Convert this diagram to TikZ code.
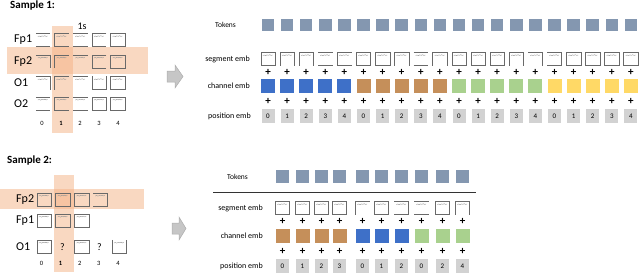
\documentclass[tikz,border=0pt]{standalone}
\usepackage{fontspec}
\setmainfont{Carlito}
\usetikzlibrary{calc}
\definecolor{tokc}{RGB}{132,151,176}
\definecolor{colBlue}{RGB}{62,112,200}
\definecolor{colBrown}{RGB}{197,143,90}
\definecolor{colGreen}{RGB}{169,209,142}
\definecolor{colYellow}{RGB}{255,217,102}
\definecolor{posc}{RGB}{210,210,210}
\definecolor{bandc}{RGB}{244,177,131}
\definecolor{sigc}{RGB}{105,105,105}
\newcommand\sgF[1]{\draw[sigline] (#1.north west) rectangle (#1.south east);}
\newcommand\sgU[1]{\draw[sigline] (#1.south west) -- (#1.north west) -- (#1.north east) -- (#1.south east);}
\newcommand\sgC[1]{\draw[sigline] (#1.north east) -- (#1.north west) -- (#1.south west) -- (#1.south east);}
\newcommand\sgR[1]{\draw[sigline] (#1.north west) -- (#1.north east) -- (#1.south east) -- (#1.south west);}
\newcommand\sgT[1]{\draw[sigline] (#1.north west) -- (#1.north east) (#1.south west) -- (#1.south east);}
\newcommand\sgG[1]{\draw[sigline] (#1.south west) -- (#1.north west) -- (#1.north east);}
\newcommand\sgN[1]{\draw[sigline] (#1.north west) -- (#1.north east) -- (#1.south east);}
\newcommand\sgW[1]{\draw[sigline] (#1.north west) -- (#1.south west) -- (#1.south east) -- (#1.north east);}
\newcommand\sgO[1]{\draw[sigline] (#1.north west) -- (#1.north east);}
\newcommand\sigbox[3]{%
  \node[sigcell] (#1) at (#2) {};
  \csname sg#3\endcsname{#1}%
  \draw[wave] ([xshift=2pt,yshift=-3.2pt]#1.north west) -- ++(1.4,-.5) -- ++(1.4,.6) -- ++(1.4,-.7) -- ++(1.4,.4) -- ++(1.4,-.6) -- ++(1.4,.7) -- ++(1.4,-.4);}
\begin{document}
\begin{tikzpicture}[x=1pt,y=-1pt,
  sigcell/.style={minimum width=14pt,minimum height=13pt,inner sep=0pt,draw=none},
  sigline/.style={draw=sigc,line width=0.6pt},
  wave/.style={draw=gray!85,line width=0.4pt},
  tok/.style={fill=tokc,minimum size=12.5pt,inner sep=0pt},
  chan/.style={minimum size=14pt,inner sep=0pt},
  posbox/.style={fill=posc,minimum width=13pt,minimum height=14pt,inner sep=0pt,font=\fontsize{7}{8}\selectfont},
  plus/.style={font=\fontsize{11}{11}\selectfont\bfseries,inner sep=0pt},
  lab/.style={font=\fontsize{8}{9}\selectfont,anchor=east,inner sep=0pt},
  rowlab/.style={font=\fontsize{12}{13}\selectfont,anchor=west,inner sep=0pt},
  numlab/.style={font=\fontsize{6.5}{7}\selectfont,inner sep=0pt},
  title/.style={font=\fontsize{11}{12}\selectfont\bfseries,anchor=west,inner sep=0pt},
  band/.style={fill=bandc,fill opacity=0.5,draw=none},
  arr/.style={fill=gray!45,draw=gray!65,line width=0.5pt}]
\useasboundingbox (0,0) rectangle (640,277);

% ---------------- Sample 1 (left) ----------------
\node[title] (t1) at (10,5.8) {Sample 1:};
\fill[band] (7,47) rectangle (148,74);
\fill[band] (52,26) rectangle (73,133);
\node[font=\fontsize{10}{11}\selectfont,inner sep=0pt] (onesec) at (82,26) {1s};
\foreach \row/\yy/\vs in {Fp1/40/{T,C,T,C,F},Fp2/61.5/{N,G,O,C,F},O1/83/{N,G,O,W,F},O2/103.5/{T,C,T,F,F}}{
  \node[rowlab] (s1l\row) at (14,\yy) {\row};
  \foreach \v [count=\c from 0] in \vs {
    \pgfmathsetmacro\xx{43+18.7*\c}
    \sigbox{s1\row\c}{\xx,\yy}{\v}
  }
}
\foreach \c in {0,...,4}{
  \pgfmathsetmacro\xx{42+19*\c}
  \ifnum\c=1
    \node[numlab,font=\fontsize{6.5}{7}\selectfont\bfseries] (s1n\c) at (\xx,123) {\c};
  \else
    \node[numlab] (s1n\c) at (\xx,123) {\c};
  \fi
}
\draw[arr] (167,71) -- (175,71) -- (175,65) -- (183,76.5) -- (175,88) -- (175,82) -- (167,82) -- cycle;

% ---------------- Sample 1 (right) ----------------
\node[font=\fontsize{7.5}{8}\selectfont,inner sep=0pt] (tokl1) at (225.5,25) {Tokens};
\node[lab] (segl1) at (250,59) {segment emb};
\node[lab] (chl1) at (250,85.5) {channel emb};
\node[lab] (posl1) at (251,116) {position emb};
\foreach \v/\cc [count=\i from 0] in {F/colBlue,U/colBlue,U/colBlue,T/colBlue,C/colBlue,
    F/colBrown,F/colBrown,U/colBrown,T/colBrown,U/colBrown,
    F/colGreen,F/colGreen,F/colGreen,U/colGreen,N/colGreen,
    R/colYellow,F/colYellow,F/colYellow,F/colYellow,F/colYellow}{
  \pgfmathsetmacro\xx{268+19.1*\i}
  \pgfmathtruncatemacro\p{mod(\i,5)}
  \node[tok] (tk1\i) at (\xx,25) {};
  \sigbox{sg1\i}{\xx,59}{\v}
  \node[plus] (pa1\i) at (\xx,72) {+};
  \node[chan,fill=\cc] (ch1\i) at (\xx,85.5) {};
  \node[plus] (pb1\i) at (\xx,101) {+};
  \node[posbox] (ps1\i) at (\xx,116) {\p};
}

% ---------------- Sample 2 (left) ----------------
\node[title] (t2) at (7,160) {Sample 2:};
\fill[band] (0,189) rectangle (144,209);
\fill[band] (54,175) rectangle (74,272);
\node[rowlab] (s2lFp2) at (16,199.5) {Fp2};
\node[rowlab] (s2lFp1) at (16,220.5) {Fp1};
\node[rowlab] (s2lO1) at (16,246.5) {O1};
\foreach \v [count=\c from 0] in {F,F,F,R}{
  \pgfmathsetmacro\xx{44+18.8*\c}
  \sigbox{s2Fp2\c}{\xx,199.5}{\v}
}
\foreach \v [count=\c from 0] in {F,F,F}{
  \pgfmathsetmacro\xx{44+18.8*\c}
  \sigbox{s2Fp1\c}{\xx,220.5}{\v}
}
\sigbox{s2O10}{44,246.5}{F}
\node[font=\fontsize{10}{11}\selectfont,inner sep=0pt] (q1) at (62.5,247) {?};
\sigbox{s2O12}{81.6,246.5}{F}
\node[font=\fontsize{10}{11}\selectfont,inner sep=0pt] (q3) at (99.5,247) {?};
\sigbox{s2O14}{119.2,246.5}{W}
\foreach \c in {0,...,4}{
  \pgfmathsetmacro\xx{41.5+19.1*\c}
  \ifnum\c=1
    \node[numlab,font=\fontsize{6.5}{7}\selectfont\bfseries] (s2n\c) at (\xx,263) {\c};
  \else
    \node[numlab] (s2n\c) at (\xx,263) {\c};
  \fi
}
\draw[arr] (172,223) -- (179,223) -- (179,217) -- (186,228.5) -- (179,240) -- (179,234) -- (172,234) -- cycle;

% ---------------- Sample 2 (right) ----------------
\node[font=\fontsize{7.5}{8}\selectfont,inner sep=0pt] (tokl2) at (237.5,176.5) {Tokens};
\coordinate (lineA) at (213,192.3);
\coordinate (lineB) at (476,192.3);
\draw[line width=0.7pt,black!80] (lineA) -- (lineB);
\node[lab] (segl2) at (263,208) {segment emb};
\node[lab] (chl2) at (263,236) {channel emb};
\node[lab] (posl2) at (263,266) {position emb};
\foreach \xx/\v/\cc/\p [count=\i] in {282.5/F/colBrown/0,302.5/F/colBrown/1,321.5/F/colBrown/2,339.5/F/colBrown/3,
   362.5/G/colBlue/0,381.5/F/colBlue/1,401.5/R/colBlue/2,
   421.5/T/colGreen/0,442.5/F/colGreen/2,462.5/U/colGreen/4}{
  \node[tok] (tk2\i) at (\xx,176.5) {};
  \sigbox{sg2\i}{\xx,208}{\v}
  \node[plus] (pa2\i) at (\xx,221.5) {+};
  \node[chan,fill=\cc] (ch2\i) at (\xx,236) {};
  \node[plus] (pb2\i) at (\xx,251) {+};
  \node[posbox] (ps2\i) at (\xx,266) {\p};
}
\end{tikzpicture}
\end{document}
